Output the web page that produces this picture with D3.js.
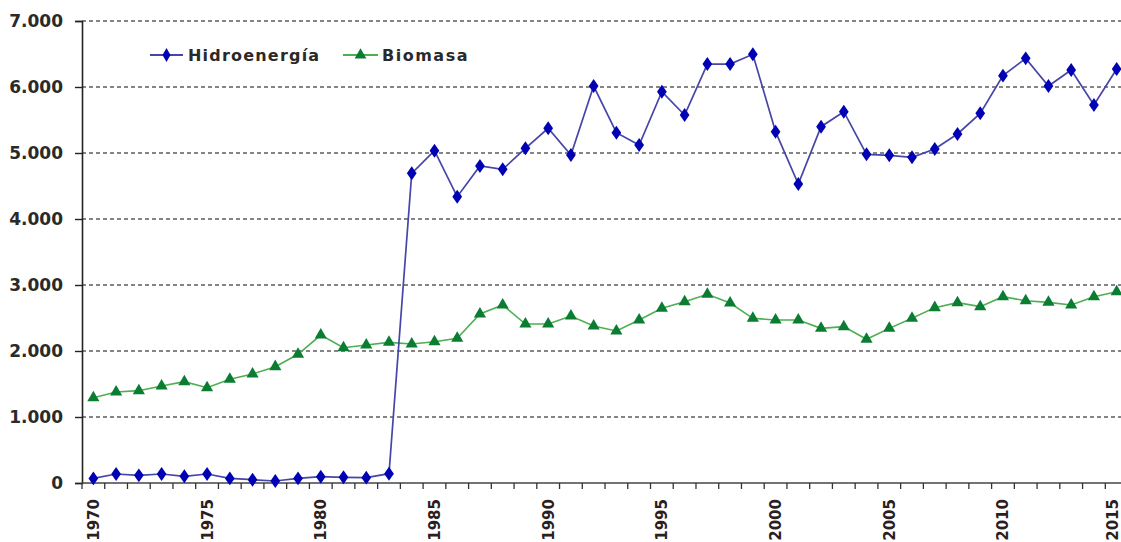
<!DOCTYPE html>
<html><head><meta charset="utf-8">
<script src="https://cdn.jsdelivr.net/npm/d3@7"></script>
<style>html,body{margin:0;padding:0;background:#fff;overflow:hidden}</style>
</head><body><svg id="c" width="1121" height="542"></svg>
<script>
const years = d3.range(1970, 2016);
const hidroenergia = [70,136,116,136,101,136,70,50,30,70,96,86,81,141,4692,5035,4338,4803,4753,5071,5374,4970,6015,5308,5121,5929,5576,6348,6348,6495,5323,4530,5399,5626,4980,4965,4935,5061,5288,5601,6172,6434,6015,6258,5727,6273];
const biomasa = [1293,1379,1399,1470,1535,1444,1571,1652,1763,1950,2242,2050,2091,2131,2106,2141,2192,2561,2697,2409,2409,2530,2379,2303,2470,2647,2747,2859,2727,2495,2470,2470,2343,2369,2177,2343,2495,2657,2732,2672,2823,2762,2737,2697,2823,2899];
const yTicks = [0,1000,2000,3000,4000,5000,6000,7000];
const xLabelYears = [1970,1975,1980,1985,1990,1995,2000,2005,2010,2015];
const seriesNames = ["Hidroenergía","Biomasa"];

const svg = d3.select("#c");
const x = d3.scaleBand().domain(years).range([82, 82 + 46*22.74]).padding(0);
const y = d3.scaleLinear().domain([0,7000]).range([483, 21]);
const fmt = v => v === 0 ? "0" : d3.format(",")(v).replace(/,/g, ".");

// gridlines
svg.append("g").selectAll("line").data(yTicks.filter(d=>d>0)).join("line")
  .attr("x1", 82).attr("x2", 1121).attr("y1", d=>y(d)).attr("y2", d=>y(d))
  .attr("stroke", "#5e5e5e").attr("stroke-width", 1.6).attr("stroke-dasharray", "4,3");

// y axis
const yAxis = svg.append("g").attr("transform","translate(82,0)")
  .call(d3.axisLeft(y).tickValues(yTicks).tickSize(7).tickPadding(12).tickFormat(fmt));
yAxis.select(".domain").attr("stroke","#222").attr("stroke-width",1.6);
yAxis.selectAll(".tick line").attr("stroke","#222").attr("stroke-width",1.4);
yAxis.selectAll("text").attr("font-family","DejaVu Sans, Verdana, sans-serif")
  .attr("font-weight","bold").attr("font-size","17px").attr("fill","#2a2a2a");

// x axis
const xAxisG = svg.append("g").attr("transform","translate(0,483)");
xAxisG.append("line").attr("x1",82).attr("x2",1121).attr("y1",0).attr("y2",0)
  .attr("stroke","#444").attr("stroke-width",1.6);
xAxisG.selectAll("line.tk").data(years).join("line").attr("class","tk")
  .attr("x1", d=>x(d)).attr("x2", d=>x(d)).attr("y1",0).attr("y2",6)
  .attr("stroke","#333").attr("stroke-width",1.3);
xAxisG.selectAll("text").data(xLabelYears).join("text")
  .attr("transform", d=>`translate(${Math.min(x(d)+x.bandwidth()/2+5.5, 1118)},16) rotate(-90)`)
  .attr("text-anchor","end")
  .attr("font-family","DejaVu Sans, Verdana, sans-serif")
  .attr("font-weight","bold").attr("font-size","15px").attr("fill","#2a2020")
  .text(d=>d);

const cx = d => x(d) + x.bandwidth()/2;
const line = d3.line().x((d,i)=>cx(years[i])).y(d=>y(d));

// biomasa
svg.append("path").datum(biomasa).attr("d", line).attr("fill","none")
  .attr("stroke","#4caf50").attr("stroke-width",1.6);
svg.append("g").selectAll("path").data(biomasa).join("path")
  .attr("d", d3.symbol(d3.symbolTriangle, 64))
  .attr("transform",(d,i)=>`translate(${cx(years[i])},${y(d)})`)
  .attr("fill","#0a7d32");

// hidro
svg.append("path").datum(hidroenergia).attr("d", line).attr("fill","none")
  .attr("stroke","#4646a8").attr("stroke-width",1.7);
svg.append("g").selectAll("path").data(hidroenergia).join("path")
  .attr("d", d3.symbol(d3.symbolDiamond, 62))
  .attr("transform",(d,i)=>`translate(${cx(years[i])},${y(d)}) scale(1.15,0.95)`)
  .attr("fill","#0000b4");

// legend
const lg = svg.append("g");
const leg = [
  {name: seriesNames[0], x1:150, x2:183, text:188, ls:"1.2px", color:"#4646a8", mc:"#0000b4", sym:d3.symbolDiamond, s:55},
  {name: seriesNames[1], x1:343, x2:378, text:382, ls:"1.5px", color:"#4caf50", mc:"#0a7d32", sym:d3.symbolTriangle, s:60}
];
leg.forEach(l=>{
  lg.append("line").attr("x1",l.x1).attr("x2",l.x2).attr("y1",55).attr("y2",55)
    .attr("stroke",l.color).attr("stroke-width",1.8);
  lg.append("path").attr("d", d3.symbol(l.sym, l.s))
    .attr("transform",`translate(${(l.x1+l.x2)/2},55)`).attr("fill",l.mc);
  lg.append("text").attr("x",l.text).attr("y",61)
    .attr("font-family","DejaVu Sans, Verdana, sans-serif").attr("font-weight","bold")
    .attr("font-size","16px").attr("fill","#2a2a2a").attr("letter-spacing",l.ls).text(l.name);
});
</script></body></html>
